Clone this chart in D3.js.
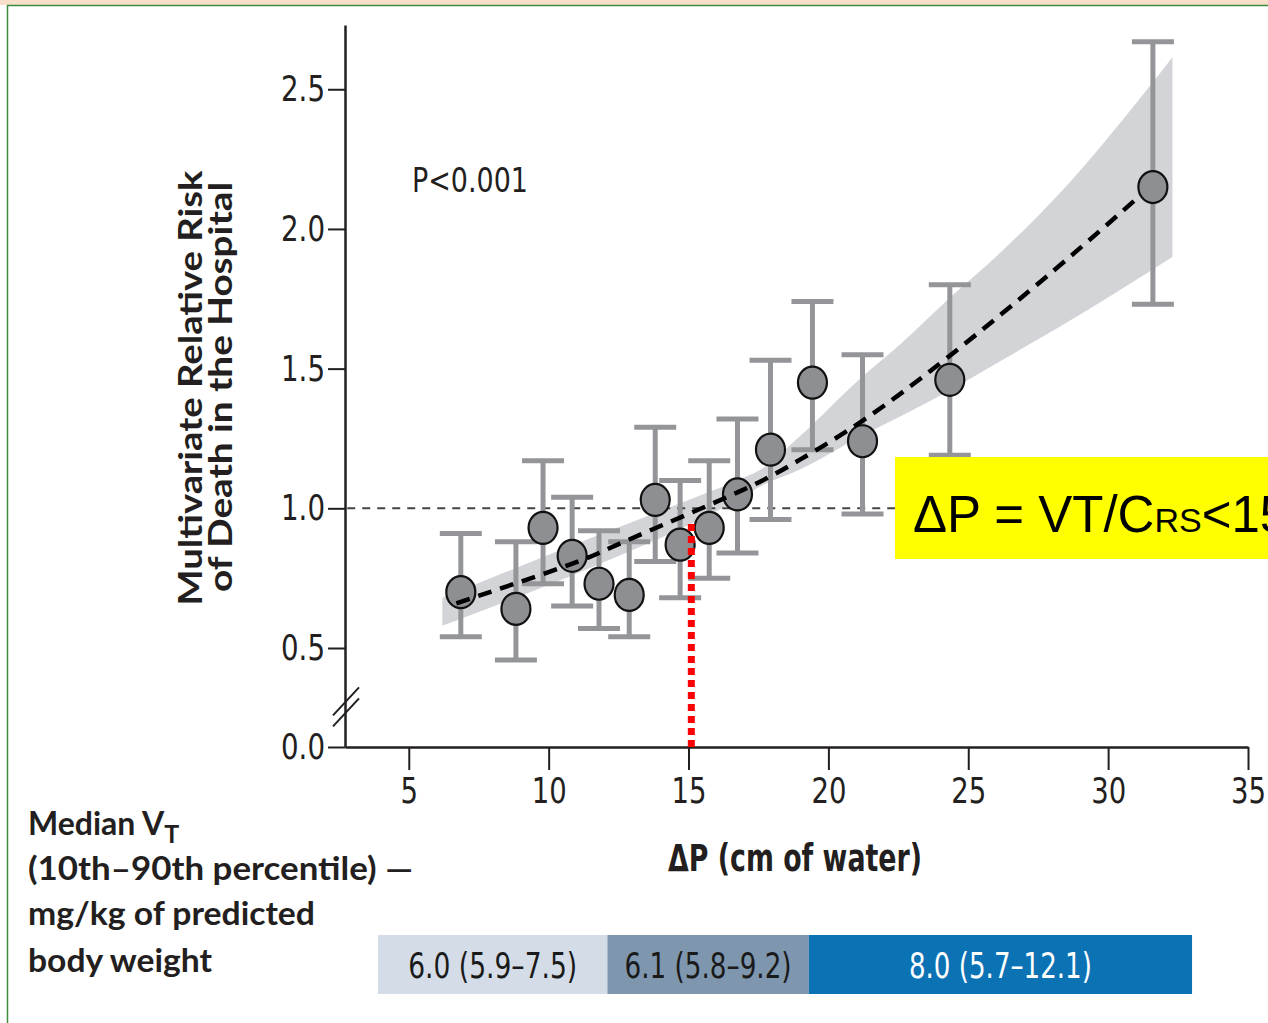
<!DOCTYPE html>
<html>
<head>
<meta charset="utf-8">
<script src="https://cdn.jsdelivr.net/npm/d3@7"></script>
<style>
  body { margin: 0; background: #fff; }
  svg { display: block; }
  .narrow { font-family: "Liberation Sans Narrow", "DejaVu Sans Condensed", sans-serif; }
  .boldsans { font-family: Lato, "Open Sans", sans-serif; font-weight: bold; }
</style>
</head>
<body>
<svg width="1268" height="1023"></svg>
<script>
// tick labels
const xTicks = [5, 10, 15, 20, 25, 30, 35];
const yTicks = [0.0, 0.5, 1.0, 1.5, 2.0, 2.5];

// quantile points: driving pressure vs relative risk (with 95% CI)
const deltaP = [6.86, 8.83, 9.80, 10.84, 11.80, 12.88, 13.81, 14.70, 15.74, 16.75, 17.93, 19.43, 21.22, 24.34, 31.60];
const rr     = [0.70, 0.64, 0.93, 0.83, 0.73, 0.69, 1.03, 0.87, 0.93, 1.05, 1.21, 1.45, 1.24, 1.46, 2.15];
const rrLow  = [0.54, 0.44, 0.73, 0.65, 0.57, 0.54, 0.81, 0.68, 0.75, 0.84, 0.96, 1.21, 0.98, 1.19, 1.73];
const rrHigh = [0.91, 0.88, 1.17, 1.04, 0.92, 0.88, 1.29, 1.10, 1.17, 1.32, 1.53, 1.74, 1.55, 1.80, 2.67];

// fitted curve
const fitX = [6.7, 10.8, 12.8, 16.75, 19.0, 21.2, 24.3, 28.1, 31.15];
const fitY = [0.66, 0.80, 0.885, 1.057, 1.175, 1.312, 1.543, 1.855, 2.12];

// confidence band of the fit
const bandX    = [6.2, 11.8, 15.0, 16.75, 17.6, 19.0, 21.2, 22.6, 24.3, 26.2, 28.1, 32.3];
const bandLow  = [0.58, 0.80, 0.94, 1.03, 1.08, 1.14, 1.26, 1.33, 1.42, 1.53, 1.64, 1.90];
const bandHigh = [0.68, 0.905, 1.03, 1.10, 1.14, 1.26, 1.47, 1.59, 1.75, 1.92, 2.11, 2.615];

// cutoff marker
const cutoffDP = 15.1;
const cutoffRR = 0.96;

// tidal volume groups under the x axis
const vtEdges  = [3.9, 12.1, 19.3, 33.0];
const vtLabels = ["6.0 (5.9\u20137.5)", "6.1 (5.8\u20139.2)", "8.0 (5.7\u201312.1)"];
const vtFills  = ["#d4dde7", "#7f97ae", "#0b72b4"];
const vtText   = ["#1a1a1a", "#1a1a1a", "#ffffff"];

const svg = d3.select("svg");

const x = d3.scaleLinear().domain([2.72, 35]).range([345, 1248]);
const y = d3.scaleLinear().domain([0, 0.5, 2.73]).range([747, 648, 25]);

// the reference uses a condensed face, so squeeze text to its width
function narrowLen(s) {
    let w = 0;
    for (let c of s) {
        if (c == "." ) w += 9;
        else w += 17.5;
    }
    return w;
}

// page frame
svg.append("rect").attr("x", 0).attr("y", 0).attr("width", 1268).attr("height", 5).attr("fill", "#f7dfca");
svg.append("line").attr("x1", 7).attr("x2", 1268).attr("y1", 5.5).attr("y2", 5.5)
    .attr("stroke", "#3d8b3d").attr("stroke-width", 1.5);
svg.append("line").attr("x1", 7.5).attr("x2", 7.5).attr("y1", 5).attr("y2", 1023)
    .attr("stroke", "#3d8b3d").attr("stroke-width", 1.5);

// band
let band = bandX.map((d, i) => ({x: d, lo: bandLow[i], hi: bandHigh[i]}));
svg.append("path")
    .datum(band)
    .attr("d", d3.area().x(d => x(d.x)).y0(d => y(d.lo)).y1(d => y(d.hi)).curve(d3.curveMonotoneX))
    .attr("fill", "#d3d4d7");

// reference line at RR = 1
svg.append("line")
    .attr("x1", x(2.8)).attr("x2", x(32.3))
    .attr("y1", y(1)).attr("y2", y(1))
    .attr("stroke", "#444").attr("stroke-width", 2)
    .attr("stroke-dasharray", "8,7");

// axes
let yAxis = svg.append("g")
    .attr("transform", "translate(345,0)")
    .call(d3.axisLeft(y).tickValues(yTicks).tickFormat(d3.format(".1f")).tickSize(17).tickSizeOuter(0).tickPadding(3));

let xAxis = svg.append("g")
    .attr("transform", "translate(0,747)")
    .call(d3.axisBottom(x).tickValues(xTicks).tickSize(23).tickSizeOuter(0).tickPadding(7));

[yAxis, xAxis].forEach(function(g) {
    g.select(".domain").attr("stroke", "#231f20").attr("stroke-width", 2.5);
    g.selectAll(".tick line").attr("stroke", "#231f20").attr("stroke-width", 2);
    g.selectAll(".tick text")
        .attr("class", "narrow")
        .attr("font-size", 36)
        .attr("fill", "#231f20")
        .attr("textLength", function() { return narrowLen(this.textContent); })
        .attr("lengthAdjust", "spacingAndGlyphs");
});

// axis break marks
let by = y(0.2);
[-5, 6].forEach(function(o) {
    svg.append("line")
        .attr("x1", 333).attr("y1", by + o + 13)
        .attr("x2", 359).attr("y2", by + o - 15)
        .attr("stroke", "#231f20").attr("stroke-width", 2);
});

// error bars
let pts = deltaP.map((d, i) => ({x: d, v: rr[i], lo: rrLow[i], hi: rrHigh[i]}));
let eb = svg.append("g").attr("stroke", "#939598").attr("stroke-width", 5);
eb.selectAll(".v").data(pts).enter().append("line")
    .attr("x1", d => x(d.x)).attr("x2", d => x(d.x))
    .attr("y1", d => y(d.lo)).attr("y2", d => y(d.hi));
eb.selectAll(".t").data(pts).enter().append("line")
    .attr("x1", d => x(d.x) - 21).attr("x2", d => x(d.x) + 21)
    .attr("y1", d => y(d.hi)).attr("y2", d => y(d.hi));
eb.selectAll(".b").data(pts).enter().append("line")
    .attr("x1", d => x(d.x) - 21).attr("x2", d => x(d.x) + 21)
    .attr("y1", d => y(d.lo)).attr("y2", d => y(d.lo));

// points
svg.selectAll("ellipse").data(pts).enter().append("ellipse")
    .attr("cx", d => x(d.x)).attr("cy", d => y(d.v))
    .attr("rx", 14.5).attr("ry", 16)
    .attr("fill", "#8d8f93").attr("stroke", "#111").attr("stroke-width", 2.2);

// fitted curve
let fit = fitX.map((d, i) => ({x: d, v: fitY[i]}));
svg.append("path")
    .datum(fit)
    .attr("d", d3.line().x(d => x(d.x)).y(d => y(d.v)).curve(d3.curveNatural))
    .attr("fill", "none").attr("stroke", "#000").attr("stroke-width", 4.5)
    .attr("stroke-dasharray", "14,9");

// red cutoff line
svg.append("line")
    .attr("x1", x(cutoffDP)).attr("x2", x(cutoffDP))
    .attr("y1", y(0)).attr("y2", y(cutoffRR))
    .attr("stroke", "#ff0000").attr("stroke-width", 7)
    .attr("stroke-dasharray", "7,5");

// P value
svg.append("text").attr("class", "narrow")
    .attr("x", 412).attr("y", 192)
    .attr("font-size", 34).attr("fill", "#231f20")
    .attr("textLength", 116).attr("lengthAdjust", "spacingAndGlyphs")
    .text("P<0.001");

// axis titles
svg.append("text").attr("class", "boldsans")
    .attr("transform", "translate(202,388) rotate(-90)")
    .attr("text-anchor", "middle").attr("font-size", 33)
    .attr("textLength", 435).attr("lengthAdjust", "spacingAndGlyphs")
    .attr("fill", "#231f20")
    .text("Multivariate Relative Risk");
svg.append("text").attr("class", "boldsans")
    .attr("transform", "translate(232,387) rotate(-90)")
    .attr("text-anchor", "middle").attr("font-size", 33)
    .attr("textLength", 410).attr("lengthAdjust", "spacingAndGlyphs")
    .attr("fill", "#231f20")
    .text("of Death in the Hospital");

svg.append("text").attr("class", "narrow")
    .attr("x", 795).attr("y", 871)
    .attr("text-anchor", "middle").attr("font-size", 37).attr("font-weight", "bold")
    .attr("textLength", 254).attr("lengthAdjust", "spacingAndGlyphs")
    .attr("fill", "#231f20")
    .text("\u0394P (cm of water)");

// legend label on the left
let leg = svg.append("g").attr("class", "boldsans").attr("font-size", 32).attr("fill", "#231f20");
let l1 = leg.append("text").attr("x", 28).attr("y", 835);
l1.append("tspan").text("Median V");
l1.append("tspan").attr("dy", 8).attr("font-size", 25).text("T");
leg.append("text").attr("x", 28).attr("y", 880)
    .attr("textLength", 385).attr("lengthAdjust", "spacingAndGlyphs")
    .text("(10th\u201390th percentile) \u2014");
leg.append("text").attr("x", 28).attr("y", 925)
    .attr("textLength", 287).attr("lengthAdjust", "spacingAndGlyphs")
    .text("mg/kg of predicted");
leg.append("text").attr("x", 28).attr("y", 972)
    .attr("textLength", 184).attr("lengthAdjust", "spacingAndGlyphs")
    .text("body weight");

// tidal volume bars
const vtWidths = [169, 167, 183];
let groups = vtLabels.map((d, i) => ({label: d, from: vtEdges[i], to: vtEdges[i + 1], fill: vtFills[i], color: vtText[i], w: vtWidths[i]}));
svg.selectAll(".vt").data(groups).enter().append("rect")
    .attr("x", d => x(d.from)).attr("width", d => x(d.to) - x(d.from))
    .attr("y", 935).attr("height", 59)
    .attr("fill", d => d.fill);
svg.selectAll(".vtl").data(groups).enter().append("text")
    .attr("class", "narrow")
    .attr("x", d => (x(d.from) + x(d.to)) / 2).attr("y", 978)
    .attr("text-anchor", "middle").attr("font-size", 35)
    .attr("textLength", d => d.w).attr("lengthAdjust", "spacingAndGlyphs")
    .attr("fill", d => d.color)
    .text(d => d.label);

// yellow annotation
svg.append("rect").attr("x", 895).attr("y", 457).attr("width", 400).attr("height", 102).attr("fill", "#ffff00");
let ann = svg.append("text")
    .attr("x", 913).attr("y", 532)
    .attr("font-family", "Liberation Sans, Arial, sans-serif")
    .attr("font-size", 51).attr("fill", "#000");
ann.append("tspan").text("\u0394P = VT/C");
ann.append("tspan").attr("font-size", 34).text("RS");
ann.append("tspan").text("<15");
</script>
</body>
</html>
